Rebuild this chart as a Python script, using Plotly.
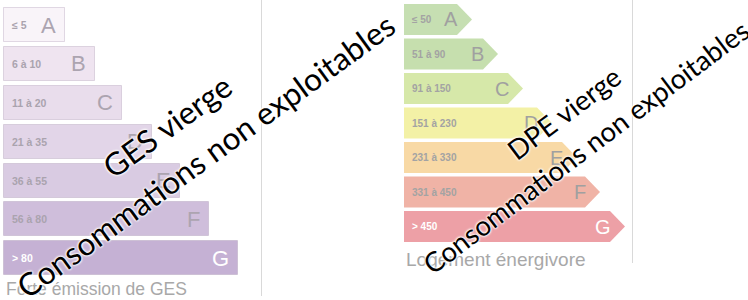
import plotly.graph_objects as go

# ---------------- data ----------------
classes = ["A", "B", "C", "D", "E", "F", "G"]
ges_ranges = ["≤ 5", "6 à 10", "11 à 20", "21 à 35", "36 à 55", "56 à 80", "> 80"]
ges_values = [61, 91, 118, 148, 176, 205, 234]          # bar lengths (chart units)
dpe_ranges = ["≤ 50", "51 à 90", "91 à 150", "151 à 230", "231 à 330", "331 à 450", "> 450"]
dpe_values = [53, 79, 104, 133, 158, 181, 206]          # arrow body lengths (chart units)
ges_caption = "Forte émission de GES"
dpe_caption = "Logement énergivore"

# ---------------- styles ----------------
ges_colors = ["#f9f4f9", "#efe4f0", "#e9ddec", "#e2d5e8", "#d9cbe2", "#cfbedb", "#c5b1d4"]
dpe_colors = ["#c6dfb2", "#c6dfae", "#d6e8a9", "#f3f1a6", "#f8d9a5", "#f0b3a6", "#eda0a6"]
TIP = 15
DPE_HALF = 0.45

fig = go.Figure()

rows = list(range(len(classes)))

# GES bars
fig.add_trace(go.Bar(
    x=ges_values, y=rows, orientation="h", base=0, width=0.874,
    marker=dict(color=ges_colors, line=dict(color="rgba(150,130,160,0.28)", width=1)),
    xaxis="x", yaxis="y", hoverinfo="skip", showlegend=False,
))

# DPE arrows
for i, (v, c) in enumerate(zip(dpe_values, dpe_colors)):
    xs = [0, v, v + TIP, v, 0, 0]
    ys = [i - DPE_HALF, i - DPE_HALF, i, i + DPE_HALF, i + DPE_HALF, i - DPE_HALF]
    fig.add_trace(go.Scatter(
        x=xs, y=ys, mode="lines", fill="toself", fillcolor=c,
        line=dict(width=0, color=c), xaxis="x2", yaxis="y2",
        hoverinfo="skip", showlegend=False,
    ))

ann = []
lab_font = "Liberation Sans, Arial, sans-serif"
for i, cl in enumerate(classes):
    last = i == len(classes) - 1
    # GES
    ann.append(dict(x=6, y=i, xref="x", yref="y", text=ges_ranges[i], showarrow=False,
                    xanchor="left", yanchor="middle",
                    font=dict(family=lab_font, size=10.5, color="#ffffff" if last else "#aaa3ae", weight=600)))
    ann.append(dict(x=ges_values[i] - 7, y=i, xref="x", yref="y", text=cl, showarrow=False,
                    xanchor="right", yanchor="middle",
                    font=dict(family=lab_font, size=22, color="#ffffff" if last else "#aca4b0")))
    # DPE
    ann.append(dict(x=6, y=i, xref="x2", yref="y2", text=dpe_ranges[i], showarrow=False,
                    xanchor="left", yanchor="middle",
                    font=dict(family=lab_font, size=10, color="#ffffff" if last else "#a3a3a3", weight=600)))
    ann.append(dict(x=dpe_values[i] + 3, y=i, xref="x2", yref="y2", text=cl, showarrow=False,
                    xanchor="right", yanchor="middle",
                    font=dict(family=lab_font, size=20, color="#ffffff" if last else "#a0a0a0")))

ann.append(dict(x=0, y=6.79, xref="x", yref="y", text=ges_caption, showarrow=False,
                xanchor="left", yanchor="middle",
                font=dict(family=lab_font, size=17.5, color="#a8a8a8")))
ann.append(dict(x=0, y=6.95, xref="x2", yref="y2", text=dpe_caption, showarrow=False,
                xanchor="left", yanchor="middle",
                font=dict(family=lab_font, size=19, color="#a8a8a8")))

# watermark texts
halo = "0 0 2px #fff, 0 0 2px #fff, 0 0 3px #fff, 0 0 3px #fff"
wm_font = "Lato, Roboto, sans-serif"
W, H = 748, 300
def wm(cx, cy, text, size, angle):
    return dict(x=cx / W, y=1 - cy / H, xref="paper", yref="paper", text=text,
                showarrow=False, xanchor="center", yanchor="middle", textangle=angle,
                font=dict(family=wm_font, size=size, color="#000000", shadow=halo))

ann.append(wm(167, 126, "GES vierge", 31.5, -36))
ann.append(wm(205, 156, "Consommations non exploitables", 31.5, -36))
ann.append(wm(563, 113, "DPE vierge", 27.5, -37))
ann.append(wm(585, 147, "Consommations non exploitables", 27.5, -37))

shapes = [
    dict(type="line", xref="paper", yref="paper", x0=261.5 / W, x1=261.5 / W, y0=1, y1=1 - 296 / H,
         line=dict(color="#d9d9d9", width=1)),
    dict(type="line", xref="paper", yref="paper", x0=632.5 / W, x1=632.5 / W, y0=1, y1=1 - 263 / H,
         line=dict(color="#d9d9d9", width=1)),
]

hidden = dict(visible=False, showgrid=False, zeroline=False, fixedrange=True)
fig.update_layout(
    width=W, height=H, margin=dict(l=0, r=0, t=0, b=0),
    paper_bgcolor="white", plot_bgcolor="rgba(0,0,0,0)",
    xaxis=dict(domain=[0, 1], range=[-4, 744], anchor="y", **hidden),
    yaxis=dict(domain=[0, 1], range=[7.07, -0.643], anchor="x", **hidden),
    xaxis2=dict(domain=[0, 1], range=[-404, 344], anchor="y2", overlaying="x", **hidden),
    yaxis2=dict(domain=[0, 1], range=[8.13, -0.565], anchor="x2", overlaying="y", **hidden),
    annotations=ann, shapes=shapes, bargap=0,
)

fig.write_html("out.html", config={"displayModeBar": False},
               post_script="document.body.style.margin='0';document.body.style.overflow='hidden';")
